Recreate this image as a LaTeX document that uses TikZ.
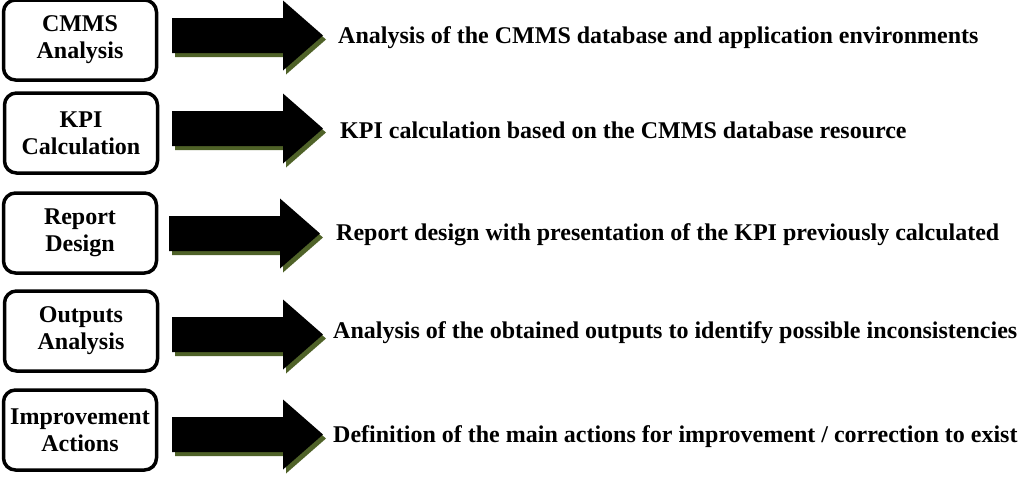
\documentclass[tikz,border=0pt]{standalone}
\usepackage{fontspec}
\setmainfont{Liberation Serif}
\definecolor{olivesh}{RGB}{79,98,40}

\begin{document}
\begin{tikzpicture}[x=1pt, y=-1pt, every node/.style={font=\fontsize{24}{27}\selectfont\bfseries},
	stage/.style={draw, line width=3.5pt, rounded corners=12pt, minimum width=153pt, minimum height=80pt, inner sep=0pt, align=center},
	desc/.style={anchor=west, inner sep=0pt},
	blockarrow/.pic={
		\fill[olivesh] (3,-13.5) -- (114,-13.5) -- (114,-31) -- (154,4) -- (114,39) -- (114,21.5) -- (3,21.5) -- cycle;
		\fill[black] (0,-17.5) -- (111,-17.5) -- (111,-35) -- (151,0) -- (111,35) -- (111,17.5) -- (0,17.5) -- cycle;
	}]
	\useasboundingbox (0,0) rectangle (1019,480);
	\node[stage] (S1) at (80,40) {CMMS\\Analysis};
	\node[stage] (S2) at (81,133) {KPI\\Calculation};
	\node[stage] (S3) at (80,233) {Report\\Design};
	\node[stage] (S4) at (81,331) {Outputs\\Analysis};
	\node[stage] (S5) at (80,430) {Improvement\\Actions};
	\pic at (172,35.5) {blockarrow};
	\pic at (172,128.5) {blockarrow};
	\pic at (169,233.5) {blockarrow};
	\pic at (172,334.5) {blockarrow};
	\pic at (172,434.5) {blockarrow};
	\node[desc] (D1) at (338,38) {Analysis of the CMMS database and application environments};
	\node[desc] (D2) at (340,130) {KPI calculation based on the CMMS database resource};
	\node[desc] (D3) at (336,235) {Report design with presentation of the KPI previously calculated};
	\node[desc] (D4) at (333,333) {Analysis of the obtained outputs to identify possible inconsistencies};
	\node[desc] (D5) at (333,437) {Definition of the main actions for improvement / correction to exist};
\end{tikzpicture}
\end{document}
